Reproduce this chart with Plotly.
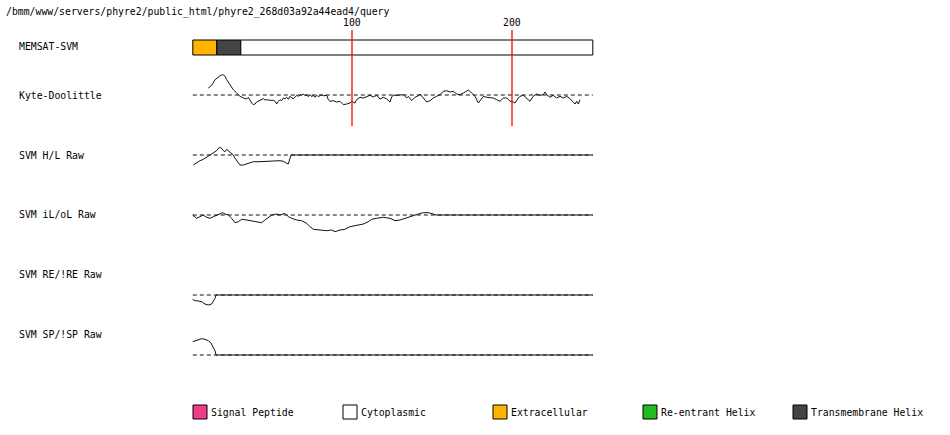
import plotly.graph_objects as go

W, H = 950, 435

header_text = "/bmm/www/servers/phyre2/public_html/phyre2_268d03a92a44ead4/query"
seq_len = 250
ruler_ticks = [100, 200]

# MEMSAT-SVM topology segments (start, end, type)
topo_start = [1, 16, 31]
topo_end = [15, 30, 250]
topo_type = ["Extracellular", "Transmembrane Helix", "Cytoplasmic"]

type_colors = {
    "Signal Peptide": "#F03A8A",
    "Cytoplasmic": "#FFFFFF",
    "Extracellular": "#FFB400",
    "Re-entrant Helix": "#22BB22",
    "Transmembrane Helix": "#444444",
}
legend_items = ["Signal Peptide", "Cytoplasmic", "Extracellular", "Re-entrant Helix", "Transmembrane Helix"]

# Kyte-Doolittle hydropathy (windowed)
kd_res = [10.2, 12.3, 14.4, 16.5, 17.9, 19.6, 20.6, 21.7, 23.75, 25.8, 27.9, 29.0, 30.0, 32.1, 34.2, 35.2,
          36.25, 37.3, 38.3, 39.4, 40.4, 42.5, 43.5, 44.6, 45.6, 46.7, 48.75, 50.8, 51.9, 52.9, 54.0, 55.0,
          56.0, 57.1, 58.1, 59.2, 60.2, 61.25, 62.3, 63.3, 64.4, 65.4, 66.5, 67.5, 68.5, 69.6, 70.6, 71.7,
          72.7, 73.75, 74.8, 75.8, 76.9, 77.9, 79.0, 80.0, 81.0, 82.1, 84.2, 85.2, 86.25, 88.3, 90.4, 92.5,
          94.6, 96.7, 98.75, 99.8, 100.8, 101.9, 102.9, 105.0, 107.1, 109.2, 111.25, 113.3, 115.4, 117.5,
          119.6, 121.7, 123.75, 124.8, 125.8, 127.9, 130.0, 132.1, 134.2, 135.2, 137.3, 139.4, 141.5, 142.5,
          144.6, 146.7, 148.75, 150.8, 152.9, 155.0, 157.1, 159.2, 161.25, 163.3, 165.4, 167.5, 169.6, 171.7,
          172.7, 174.8, 176.9, 179.0, 181.0, 182.1, 184.2, 186.25, 188.3, 190.4, 192.5, 194.6, 196.7, 197.7,
          198.75, 199.8, 201.9, 204.0, 205.0, 207.1, 209.2, 211.25, 213.3, 215.4, 217.5, 219.6, 220.6, 221.7,
          223.75, 225.8, 227.9, 230.0, 232.1, 234.2, 236.25, 238.3, 239.4, 240.4, 241.5, 242.5]
kd_val = [0.70, 0.97, 1.53, 1.77, 1.97, 2.03, 1.87, 1.53, 1.03, 0.53, 0.20, 0.03, -0.13, -0.30, -0.40, -0.23,
          -0.57, -0.80, -0.97, -0.90, -0.70, -0.57, -0.43, -0.37, -0.50, -0.47, -0.53, -0.53, -0.63, -0.90, -0.63, -0.47,
          -0.57, -0.30, -0.37, -0.23, -0.43, -0.13, -0.30, -0.37, -0.23, -0.03, -0.13, 0.03, -0.03, 0.10, -0.07, 0.03,
          -0.17, 0.03, -0.17, -0.03, -0.23, -0.03, -0.17, -0.03, 0.03, -0.07, -0.03, -0.47, -0.63, -0.57, -0.70, -0.63,
          -0.97, -0.90, -0.80, -0.63, -0.70, -0.80, -0.47, -0.23, -0.30, -0.13, -0.03, -0.20, -0.03, -0.40,
          -0.23, -0.40, -0.70, -0.20, -0.03, -0.03, -0.03, 0.03, -0.30, -0.13, -0.57, -0.23, -0.07, 0.10,
          -0.30, -0.70, -0.57, -0.30, -0.13, 0.03, 0.37, 0.43, 0.30, 0.37, 0.10, 0.03, 0.20, 0.37,
          0.50, 0.20, -0.13, -0.80, -0.30, -0.13, -0.23, -0.30, -0.30, -0.47, -0.63, -0.30, -0.30, -0.43,
          -0.63, -0.63, -0.80, -0.30, -0.13, -0.03, -0.37, -0.63, -0.13, 0.10, -0.03, 0.03, 0.30, 0.03,
          -0.23, -0.03, -0.30, -0.13, -0.30, -0.13, -0.37, -0.70, -0.90, -0.63, -0.90, -0.47]

# SVM H/L raw
hl_res = [0.8, 2.9, 5.0, 7.1, 9.2, 11.25, 13.3, 15.4, 17.1, 18.5, 19.6, 20.6, 21.7, 22.7, 23.75, 24.8, 25.8,
          26.9, 27.9, 29.0, 30.0, 32.1, 34.2, 36.25, 38.3, 42.5, 46.7, 50.8, 55.0, 57.1, 59.2, 60.2, 61.25, 61.9, 250.5]
hl_val = [-1.0, -0.77, -0.57, -0.43, -0.23, 0.0, 0.17, 0.43, 0.77, 0.67, 0.43, 0.33, 0.57, 0.43, 0.23, 0.10, 0.0,
          -0.33, -0.57, -0.83, -1.0, -1.0, -0.9, -0.83, -0.67, -0.67, -0.6, -0.6, -0.57, -0.63, -0.83, -0.9, -0.33, 0.0, 0.0]

# SVM iL/oL raw
il_res = [0.4, 2.9, 5.0, 7.1, 9.2, 11.25, 13.3, 15.4, 17.5, 19.2, 20.6, 22.7, 24.8, 26.9, 29.0, 31.0, 34.2,
          37.3, 40.4, 43.5, 45.6, 47.7, 49.8, 52.9, 55.0, 58.1, 60.2, 62.3, 65.4, 68.5, 71.7, 73.75, 75.8,
          80.0, 84.2, 87.3, 89.4, 92.5, 95.6, 98.75, 102.9, 107.1, 110.2, 112.3, 115.4, 119.6, 123.75, 126.9,
          130.0, 133.1, 136.25, 138.3, 141.5, 144.6, 147.7, 150.8, 152.5, 250.5]
il_val = [0.0, -0.33, -0.17, 0.0, -0.23, -0.33, -0.17, 0.0, 0.17, 0.23, 0.10, 0.0, -0.33, -0.77, -0.67, -0.43, -0.5,
          -0.6, -0.67, -0.77, -0.5, -0.23, 0.0, 0.10, 0.0, 0.17, -0.17, -0.33, -0.5, -0.57, -0.83, -1.17, -1.43,
          -1.5, -1.57, -1.5, -1.67, -1.5, -1.43, -1.17, -1.0, -0.9, -0.67, -0.43, -0.33, -0.23, -0.33, -0.57,
          -0.5, -0.33, -0.17, 0.0, 0.10, 0.23, 0.23, 0.10, 0.0, 0.0]

# SVM RE/!RE raw
re_res = [0.4, 1.9, 4.0, 6.0, 8.1, 10.2, 12.3, 13.3, 14.4, 15.0, 250.5]
re_val = [-0.43, -0.57, -0.6, -0.67, -0.9, -1.0, -0.9, -0.67, -0.33, 0.0, 0.0]

# SVM SP/!SP raw
sp_res = [0.4, 1.9, 4.0, 6.0, 8.1, 10.2, 11.7, 13.3, 14.4, 15.0, 250.5]
sp_val = [1.33, 1.43, 1.57, 1.63, 1.57, 1.43, 1.23, 0.83, 0.43, 0.0, 0.0]

track_labels = ["Kyte-Doolittle", "SVM H/L Raw", "SVM iL/oL Raw", "SVM RE/!RE Raw", "SVM SP/!SP Raw"]
track_res = [kd_res, hl_res, il_res, re_res, sp_res]
track_val = [kd_val, hl_val, il_val, re_val, sp_val]

# ---------------- layout helpers (pixel geometry of the window) ----------------
def pxx(x):
    return x / W

def pxy(y):
    return 1 - y / H

FONT = dict(family="DejaVu Sans Mono", size=9.8, color="#000000")
LINE_COL = "#111111"
X0_PX, PX_PER_RES = 192.0, 1.6
x_range = [-X0_PX / PX_PER_RES, (W - X0_PX) / PX_PER_RES]
TXT_PAD = 2  # annotation inner padding compensation

track_base_px = [95, 155, 215, 295, 355]
track_label_px = [95, 155, 215, 274, 334]
HALF = 30  # px half-height of each track; 10 px per score unit

fig = go.Figure()
layout_axes = {}
for i, (lab, rx, vy) in enumerate(zip(track_labels, track_res, track_val)):
    yname = "y" if i == 0 else f"y{i+1}"
    axkey = "yaxis" if i == 0 else f"yaxis{i+1}"
    b = track_base_px[i]
    layout_axes[axkey] = dict(domain=[pxy(b + HALF), pxy(b - HALF)], range=[-3, 3],
                              visible=False, fixedrange=True)
    fig.add_trace(go.Scatter(x=[topo_start[0] - 0.5, topo_end[-1] + 0.5], y=[0, 0], mode="lines",
                             line=dict(color=LINE_COL, width=1, dash="4px,3px"),
                             xaxis="x", yaxis=yname, hoverinfo="skip", showlegend=False))
    fig.add_trace(go.Scatter(x=rx, y=vy, mode="lines", line=dict(color=LINE_COL, width=1),
                             xaxis="x", yaxis=yname, name=lab, showlegend=False))

shapes = []
annotations = []

# MEMSAT bar
for s, e, t in zip(topo_start, topo_end, topo_type):
    shapes.append(dict(type="rect", xref="x", yref="paper", x0=s - 0.5, x1=e + 0.5,
                       y0=pxy(55), y1=pxy(40), fillcolor=type_colors[t],
                       line=dict(color="#000000", width=1), layer="above"))

# ruler lines
for t in ruler_ticks:
    shapes.append(dict(type="line", xref="x", yref="paper", x0=t, x1=t, y0=pxy(126), y1=pxy(30),
                       line=dict(color="#FF0000", width=1.3), layer="above"))
    annotations.append(dict(x=t, y=pxy(22), xref="x", yref="paper", text=str(t), showarrow=False,
                            xanchor="center", yanchor="middle", font=FONT))

# header
annotations.append(dict(x=pxx(6 - TXT_PAD), y=pxy(12), xref="paper", yref="paper", text=header_text,
                        showarrow=False, xanchor="left", yanchor="middle", font=FONT))

# row labels
annotations.append(dict(x=pxx(19 - TXT_PAD), y=pxy(47), xref="paper", yref="paper", text="MEMSAT-SVM",
                        showarrow=False, xanchor="left", yanchor="middle", font=FONT))
for lab, ly in zip(track_labels, track_label_px):
    annotations.append(dict(x=pxx(19 - TXT_PAD), y=pxy(ly), xref="paper", yref="paper", text=lab,
                            showarrow=False, xanchor="left", yanchor="middle", font=FONT))

# legend
for k, name in enumerate(legend_items):
    lx = 193 + 150 * k
    shapes.append(dict(type="rect", xref="paper", yref="paper", x0=pxx(lx), x1=pxx(lx + 14),
                       y0=pxy(419), y1=pxy(405), fillcolor=type_colors[name],
                       line=dict(color="#000000", width=1)))
    annotations.append(dict(x=pxx(lx + 18 - TXT_PAD), y=pxy(412), xref="paper", yref="paper", text=name,
                            showarrow=False, xanchor="left", yanchor="middle", font=FONT))

fig.update_layout(
    width=W, height=H,
    margin=dict(l=0, r=0, t=0, b=0),
    paper_bgcolor="#FFFFFF", plot_bgcolor="#FFFFFF",
    xaxis=dict(domain=[0, 1], range=x_range, visible=False, fixedrange=True),
    shapes=shapes, annotations=annotations, showlegend=False,
    **layout_axes,
)

fig.write_html("out.html", config={"displayModeBar": False},
               post_script="document.body.style.margin='0px';document.body.style.overflow='hidden';")
